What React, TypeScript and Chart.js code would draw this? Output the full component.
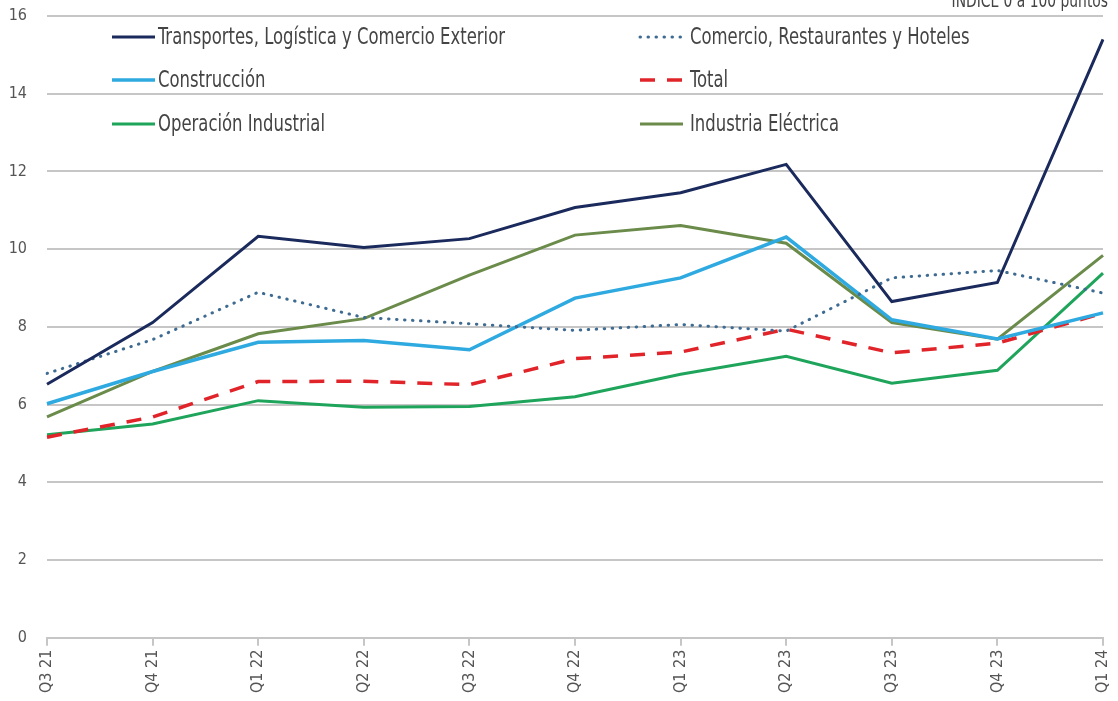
import React, { useEffect, useRef } from "react";
import { Chart, registerables } from "chart.js";

Chart.register(...registerables);

const categories = ["Q3 21", "Q4 21", "Q1 22", "Q2 22", "Q3 22", "Q4 22", "Q1 23", "Q2 23", "Q3 23", "Q4 23", "Q1 24"];

const transportes = [6.52, 8.11, 10.33, 10.04, 10.27, 11.07, 11.45, 12.18, 8.65, 9.14, 15.4];
const comercio = [6.8, 7.67, 8.89, 8.24, 8.08, 7.91, 8.06, 7.89, 9.26, 9.45, 8.87];
const construccion = [6.02, 6.85, 7.6, 7.65, 7.41, 8.74, 9.26, 10.31, 8.18, 7.69, 8.36];
const total = [5.16, 5.68, 6.59, 6.6, 6.51, 7.18, 7.35, 7.94, 7.33, 7.58, 8.35];
const operacion = [5.22, 5.5, 6.1, 5.93, 5.95, 6.2, 6.78, 7.24, 6.55, 6.88, 9.38];
const electrica = [5.68, 6.85, 7.82, 8.21, 9.33, 10.36, 10.61, 10.15, 8.11, 7.68, 9.84];

const seriesNames = [
  "Transportes, Logística y Comercio Exterior",
  "Comercio, Restaurantes y Hoteles",
  "Construcción",
  "Total",
  "Operación Industrial",
  "Industria Eléctrica",
];

const noteText = "ÍNDICE 0 a 100 puntos";
const yMin = 0;
const yMax = 16;
const yStep = 2;

const FONT = "'Liberation Sans Narrow', 'DejaVu Sans Condensed', 'Arial Narrow', sans-serif";
const TEXT = "#555555";
const GRID = "#c6c6c6";

const legendPlugin = {
  id: "twoColLegend",
  afterDraw(chart: any) {
    const ctx = chart.ctx as CanvasRenderingContext2D;
    const colX = [112, 640];
    const rowY = [37, 80, 124];
    const sampleW = 43;
    ctx.save();
    ctx.font = `23px ${FONT}`;
    const ref = ctx.measureText(seriesNames[0]).width;
    const sx = 347 / ref;
    chart.data.datasets.forEach((ds: any, i: number) => {
      const x = colX[i % 2];
      const y = rowY[Math.floor(i / 2)];
      ctx.save();
      ctx.strokeStyle = ds.borderColor;
      ctx.lineWidth = ds.borderWidth;
      ctx.lineCap = ds.borderCapStyle || "butt";
      ctx.setLineDash(ds.borderDash || []);
      ctx.beginPath();
      ctx.moveTo(x, y);
      ctx.lineTo(x + sampleW, y);
      ctx.stroke();
      ctx.restore();
      ctx.save();
      ctx.translate(x + sampleW + 3 + (i % 2 === 1 ? 4 : 0), y);
      ctx.scale(sx, 1);
      ctx.fillStyle = "#444444";
      ctx.textBaseline = "middle";
      ctx.textAlign = "left";
      ctx.fillText(ds.label, 0, 1);
      ctx.restore();
    });
    ctx.restore();
  },
};

const notePlugin = {
  id: "note",
  afterDraw(chart: any) {
    const ctx = chart.ctx as CanvasRenderingContext2D;
    ctx.save();
    ctx.font = `20px ${FONT}`;
    ctx.fillStyle = "#444444";
    ctx.textAlign = "right";
    ctx.textBaseline = "alphabetic";
    ctx.translate(1108, 7);
    ctx.scale(0.77, 1);
    ctx.fillText(noteText, 0, 0);
    ctx.restore();
  },
};

export default function App() {
  const ref = useRef<HTMLCanvasElement>(null);
  useEffect(() => {
    document.body.style.margin = "0";
    const mk = (label: string, data: number[], color: string, width: number, dash: number[] = [], cap: string = "butt") => ({
      label,
      data,
      borderColor: color,
      backgroundColor: color,
      borderWidth: width,
      borderDash: dash,
      borderCapStyle: cap,
      pointRadius: 0,
      tension: 0,
      fill: false,
    });
    const chart = new Chart(ref.current as HTMLCanvasElement, {
      type: "line",
      data: {
        labels: categories,
        datasets: [
          mk(seriesNames[0], transportes, "#1b2a5c", 3),
          mk(seriesNames[1], comercio, "#3e6b92", 3, [0.5, 7.5], "round"),
          mk(seriesNames[2], construccion, "#2eaae1", 3.5),
          mk(seriesNames[3], total, "#e0242a", 3.5, [15, 12]),
          mk(seriesNames[4], operacion, "#1fa55b", 3),
          mk(seriesNames[5], electrica, "#6a8b4a", 3),
        ] as any,
      },
      options: {
        responsive: false,
        animation: false,
        layout: { padding: { left: 0, right: 15, top: 16, bottom: 4 } },
        plugins: { legend: { display: false }, tooltip: { enabled: false }, title: { display: false } },
        scales: {
          x: {
            offset: false,
            grid: { display: true, drawOnChartArea: false, drawTicks: true, tickLength: 8, color: GRID, lineWidth: 2 },
            border: { display: true, color: GRID, width: 2 },
            ticks: { minRotation: 90, maxRotation: 90, autoSkip: false, font: { family: FONT, size: 16 }, color: TEXT, padding: 4 },
            afterFit(scale: any) {
              scale.paddingLeft = 0;
              scale.paddingRight = 0;
            },
          },
          y: {
            min: yMin,
            max: yMax,
            ticks: { stepSize: yStep, font: { family: FONT, size: 16 }, color: TEXT, padding: 20 },
            grid: { color: GRID, lineWidth: 2, drawTicks: false },
            border: { display: false },
            afterFit(scale: any) {
              scale.width = 47;
              scale.paddingTop = 0;
              scale.paddingBottom = 0;
            },
          },
        },
      },
      plugins: [legendPlugin, notePlugin],
    });
    return () => chart.destroy();
  }, []);
  return <canvas ref={ref} width={1118} height={701} style={{ display: "block" }} />;
}
